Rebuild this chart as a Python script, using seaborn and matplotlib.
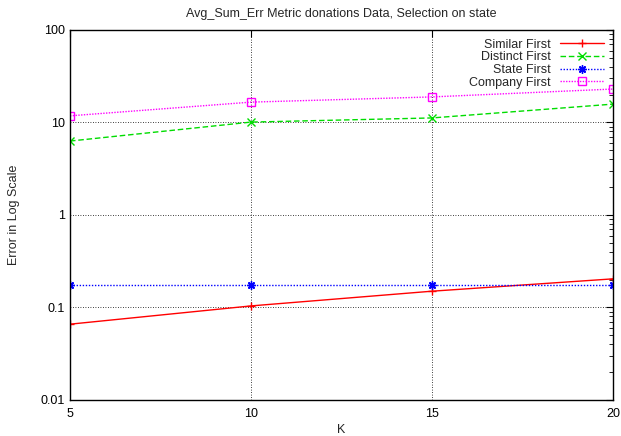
import numpy as np
import pandas as pd
import matplotlib
matplotlib.use('Agg')
import matplotlib.pyplot as plt
import matplotlib.ticker as mticker
import seaborn as sns

# data
k_values = [5, 10, 15, 20]
similar_first = [0.066, 0.104, 0.150, 0.204]
distinct_first = [6.3, 10.1, 11.2, 15.8]
state_first = [0.175, 0.175, 0.175, 0.175]
company_first = [11.8, 16.6, 18.9, 23.0]
series_names = ['Similar First', 'Distinct First', 'State First', 'Company First']

df = pd.concat([
    pd.DataFrame({'K': k_values, 'err': vals, 'method': name})
    for name, vals in zip(series_names,
                          [similar_first, distinct_first, state_first, company_first])
], ignore_index=True)

sns.set_style('white')
plt.rcParams['font.family'] = ['Liberation Sans', 'DejaVu Sans']

palette = {'Similar First': '#ff0000', 'Distinct First': '#00dd00',
           'State First': '#0000ff', 'Company First': '#ff00ff'}
dashes = {'Similar First': '', 'Distinct First': (4, 2),
          'State First': (1, 1.2), 'Company First': (1, 1)}
# gnuplot-like point types (mixed filled/line-art, so applied after plotting)
markers = {'Similar First': '+', 'Distinct First': 'x',
           'State First': (8, 2, 0), 'Company First': 's'}

fig = plt.figure(figsize=(6.21, 4.36), dpi=100)
ax = fig.add_axes([0.1127, 0.0826, 0.8743, 0.8486])

sns.lineplot(data=df, x='K', y='err', hue='method', style='method',
             hue_order=series_names, style_order=series_names,
             palette=palette, dashes=dashes, markers=False,
             linewidth=1, legend=False, ax=ax)

for line, name in zip(ax.lines, series_names):
    line.set_marker(markers[name])
    line.set_markersize(6)
    line.set_markeredgecolor(line.get_color())
    line.set_markerfacecolor('none')
    line.set_markeredgewidth(1)

ax.set_yscale('log')
ax.set_ylim(0.01, 100)
ax.set_xlim(5, 20)
ax.set_xticks(k_values)
ax.yaxis.set_major_formatter(mticker.FuncFormatter(lambda v, p: f'{v:g}'))
ax.yaxis.set_minor_locator(mticker.LogLocator(base=10, subs=np.arange(2, 10)))
ax.yaxis.set_minor_formatter(mticker.NullFormatter())

ax.tick_params(which='both', direction='in', top=True, right=True,
               labelsize=9, colors='black')
ax.tick_params(which='major', length=5, width=0.8)
ax.tick_params(axis='x', pad=6)
ax.tick_params(which='minor', length=3, width=0.6)
ax.grid(True, which='major', color='black', linestyle=(0, (1, 2)), linewidth=0.6)

for s in ax.spines.values():
    s.set_color('black')
    s.set_linewidth(1)

ax.set_xlabel('K', fontsize=9, labelpad=2.5)
ax.set_ylabel('Error in Log Scale', fontsize=9, labelpad=15)
ax.set_title('Avg_Sum_Err Metric donations Data, Selection on state', fontsize=9, pad=9)

ax.legend(ax.lines, series_names, loc='upper right', frameon=False,
          markerfirst=False, fontsize=9, handlelength=3.5,
          labelspacing=0.05, borderaxespad=0.3)

fig.savefig('out.png', dpi=100)
